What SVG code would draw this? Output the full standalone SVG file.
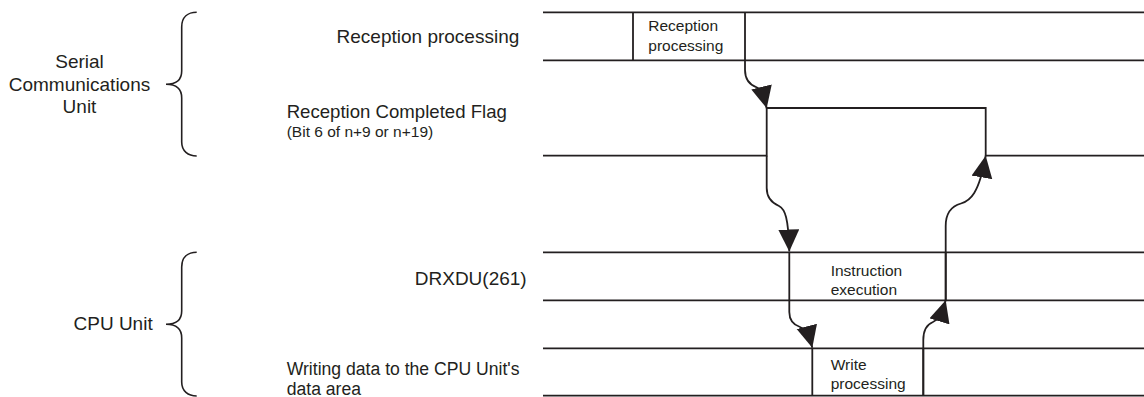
<svg xmlns="http://www.w3.org/2000/svg" width="1144" height="397" viewBox="0 0 1144 397">
<style>
text{font-family:"Liberation Sans",Arial,sans-serif;fill:#231f20}
.big{font-size:19px}
.small{font-size:15.5px}
.ln{fill:none;stroke:#231f20;stroke-width:1.8}
.br{fill:none;stroke:#231f20;stroke-width:1.6}
.arr{fill:none;stroke:#231f20;stroke-width:1.8}
</style>
<defs>
<marker id="ah" markerUnits="userSpaceOnUse" markerWidth="24" markerHeight="22" refX="22" refY="10.5" orient="auto" viewBox="0 0 24 22">
<path d="M0,0 L22,10.5 L0,21 z" fill="#231f20"/>
</marker>
</defs>
<rect width="1144" height="397" fill="#fff"/>
<g id="group-serial">
<path class="br" d="M196.7,12.3 C188,12.3 181.7,17 181.7,27 V71 C181.7,80 176,84.3 166,84.3 C176,84.3 181.7,89 181.7,98 V142 C181.7,151 188,156 196.7,156"/>
<text class="big" text-anchor="middle" x="79.5" y="68.3">Serial</text>
<text class="big" text-anchor="middle" x="79.5" y="90.8">Communications</text>
<text class="big" text-anchor="middle" x="79.5" y="113.3">Unit</text>
</g>
<g id="group-cpu">
<path class="br" d="M196.7,252.3 C188,252.3 181.7,257 181.7,267 V311 C181.7,320 176,324.3 166,324.3 C176,324.3 181.7,329 181.7,338 V382 C181.7,391 188,396 196.7,396"/>
<text class="big" text-anchor="end" x="152.7" y="330.3">CPU Unit</text>
</g>
<g id="row-reception">
<text class="big" text-anchor="end" x="519.3" y="43.3">Reception processing</text>
<path class="ln" d="M543,12.3 H1144 M543,60.3 H1144 M633,12.3 V60.3 M745,12.3 V60.3"/>
<text class="small" x="648.3" y="31">Reception</text>
<text class="small" x="648.3" y="50.5">processing</text>
</g>
<g id="row-flag">
<text x="286.7" y="118.3" style="font-size:18.6px">Reception Completed Flag</text>
<text class="small" x="286.7" y="136.7">(Bit 6 of n+9 or n+19)</text>
<path class="ln" d="M543,155.7 H766.7 V108 H985.7 V155.7 H1144"/>
</g>
<g id="row-drxdu">
<text class="big" text-anchor="end" x="526.7" y="285">DRXDU(261)</text>
<path class="ln" d="M543,252.3 H1144 M543,300.3 H1144 M789.3,252.3 V300.3 M945.7,252.3 V300.3"/>
<text class="small" x="830.7" y="276">Instruction</text>
<text class="small" x="830.7" y="294.5">execution</text>
</g>
<g id="row-write">
<text x="286.7" y="374.5" style="font-size:17.6px">Writing data to the CPU Unit's</text>
<text x="286.7" y="395" style="font-size:17.6px">data area</text>
<path class="ln" d="M543,348.3 H1144 M543,395.7 H1144 M812.3,348.3 V395.7 M923.3,348.3 V395.7"/>
<text class="small" x="830.7" y="370">Write</text>
<text class="small" x="830.7" y="388.5">processing</text>
</g>
<g id="connectors">
<path class="arr" marker-end="url(#ah)" d="M745,60.3 V70 C745,80 750,85 757,87.5 C761,89 763,93 766.7,108.3"/>
<path class="arr" marker-end="url(#ah)" d="M766.7,155.7 V188 C766.7,198 772,203 779,206 C785,209 788.5,218 789.3,251.5"/>
<path class="arr" marker-end="url(#ah)" d="M789.3,300.3 V312 C789.3,320 794,325 800,327 C804,328.5 808,331 812.3,347.7"/>
<path class="arr" marker-end="url(#ah)" d="M923.3,395.7 V340 C923.3,328 928,324 933,322 C938,320 941,316 945.7,300.3"/>
<path class="arr" marker-end="url(#ah)" d="M945.7,300.3 V226 C945.7,213 952,206 961,203.5 C970,201 979,194 985.7,155.7"/>
</g>
</svg>
